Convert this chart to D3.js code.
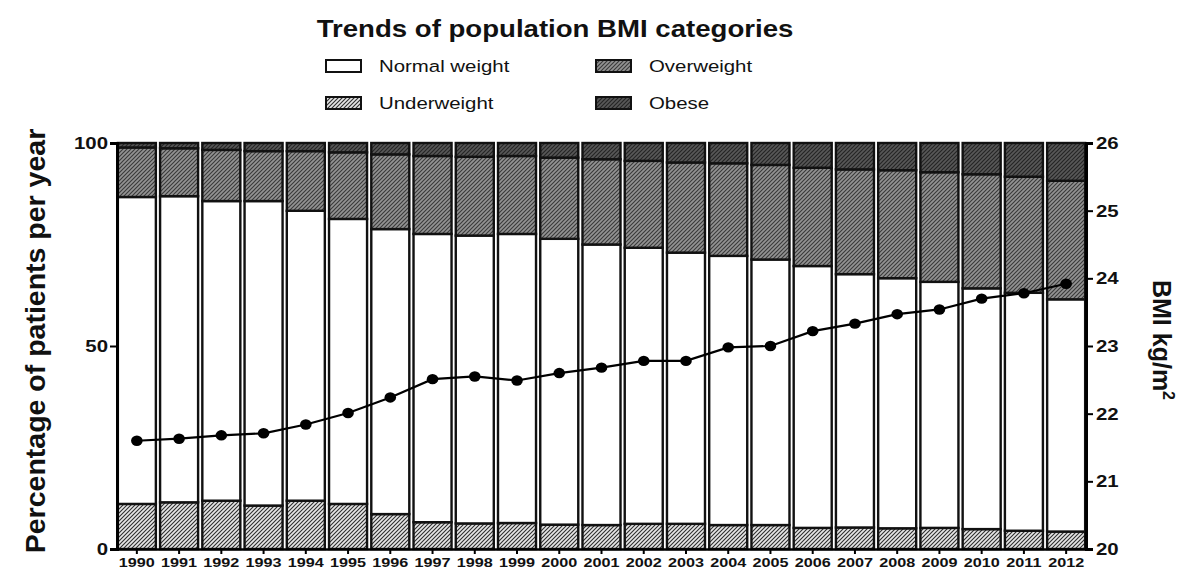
<!DOCTYPE html>
<html>
<head>
<meta charset="utf-8">
<script src="https://cdn.jsdelivr.net/npm/d3@7/dist/d3.min.js"></script>
<style>
  html, body { margin: 0; padding: 0; background: #fff; }
  svg { display: block; font-family: "Liberation Sans", Arial, Helvetica, sans-serif; }
</style>
</head>
<body>
<svg id="chart" width="1189" height="574"></svg>
<script>
// Survey years
const years = ["1990","1991","1992","1993","1994","1995","1996","1997","1998","1999","2000","2001",
               "2002","2003","2004","2005","2006","2007","2008","2009","2010","2011","2012"];

// Share of patients per BMI category (% of the year's patients)
const underweight = [11.1, 11.5, 11.9, 10.7, 11.9, 11.1, 8.6, 6.6, 6.3, 6.4, 6.0, 5.9,
                     6.2, 6.2, 5.9, 5.9, 5.2, 5.3, 5.1, 5.2, 4.9, 4.5, 4.3];
const normalWeight = [75.6, 75.4, 73.8, 75.0, 71.4, 70.2, 70.2, 71.0, 70.9, 71.2, 70.4, 69.1,
                      68.0, 66.8, 66.3, 65.4, 64.5, 62.4, 61.6, 60.6, 59.3, 58.6, 57.2];
const overweight = [12.2, 11.8, 12.6, 12.3, 14.7, 16.4, 18.4, 19.2, 19.4, 19.2, 20.0, 21.0,
                    21.4, 22.2, 22.8, 23.3, 24.2, 25.8, 26.6, 27.0, 28.1, 28.6, 29.2];
const obese = [1.1, 1.3, 1.7, 2.0, 2.0, 2.3, 2.8, 3.2, 3.4, 3.2, 3.6, 4.0,
               4.4, 4.8, 5.0, 5.4, 6.1, 6.5, 6.7, 7.2, 7.7, 8.3, 9.3];

// Mean BMI per year (kg/m²), right axis
const meanBMI = [21.60, 21.63, 21.68, 21.71, 21.84, 22.01, 22.24, 22.51, 22.55, 22.49, 22.60, 22.68,
                 22.78, 22.78, 22.98, 23.00, 23.22, 23.33, 23.47, 23.54, 23.70, 23.78, 23.92];

// Axis ticks
const pctTicks = [0, 50, 100];
const bmiTicks = [20, 21, 22, 23, 24, 25, 26];

const categories = [
  { key: "underweight", label: "Underweight", fill: "url(#hatchLight)" },
  { key: "normal", label: "Normal weight", fill: "#ffffff" },
  { key: "overweight", label: "Overweight", fill: "url(#hatchMid)" },
  { key: "obese", label: "Obese", fill: "url(#hatchDark)" }
];

const rows = years.map((yr, i) => ({
  year: yr,
  underweight: underweight[i],
  normal: normalWeight[i],
  overweight: overweight[i],
  obese: obese[i]
}));

const SX = 1.2; // horizontal widening of the text face
const svg = d3.select("#chart");

// Hatch fills
const defs = svg.append("defs");
function hatch(id, bg, stroke, w) {
  const p = defs.append("pattern").attr("id", id)
    .attr("patternUnits", "userSpaceOnUse").attr("width", 4).attr("height", 4);
  p.append("rect").attr("width", 4).attr("height", 4).attr("fill", bg);
  p.append("path").attr("d", "M-1,1 L1,-1 M0,4 L4,0 M3,5 L5,3")
    .attr("stroke", stroke).attr("stroke-width", w);
}
hatch("hatchLight", "#e6e6e6", "#2e2e2e", 1.1);
hatch("hatchMid", "#939393", "#3a3a3a", 1.15);
hatch("hatchDark", "#585858", "#242424", 1.2);

const plotLeft = 117, plotRight = 1086, plotTop = 143, plotBottom = 549;

const x = d3.scaleBand().domain(years).range([plotLeft, plotRight]).paddingInner(0.1).paddingOuter(0.02);
const y = d3.scaleLinear().domain([0, 100]).range([plotBottom, plotTop]);
const yBMI = d3.scaleLinear().domain([20, 26]).range([plotBottom, plotTop]);

// Stacked bars
const stack = d3.stack().keys(categories.map(c => c.key));
const series = stack(rows);

svg.append("g").selectAll("g").data(series).join("g")
  .attr("fill", (d, i) => categories[i].fill)
  .selectAll("rect").data(d => d).join("rect")
    .attr("x", d => x(d.data.year))
    .attr("y", d => y(d[1]))
    .attr("width", x.bandwidth())
    .attr("height", d => y(d[0]) - y(d[1]))
    .attr("stroke", "#111")
    .attr("stroke-width", 2.4);

// Axes
function widen(g) {
  g.selectAll("text").each(function () {
    const t = d3.select(this);
    const tx = +t.attr("x") || 0;
    t.attr("x", tx / SX).attr("transform", `scale(${SX},1)`);
  });
}

const axLeft = svg.append("g").attr("transform", `translate(${plotLeft},0)`)
  .call(d3.axisLeft(y).tickValues(pctTicks).tickFormat(d3.format("d")).tickSize(7).tickPadding(2));
axLeft.select(".domain").attr("stroke-width", 3);
axLeft.selectAll(".tick line").attr("stroke-width", 2);
axLeft.selectAll("text").attr("font-size", 17).attr("font-weight", "bold").attr("fill", "#111");
widen(axLeft);

const axRight = svg.append("g").attr("transform", `translate(${plotRight},0)`)
  .call(d3.axisRight(yBMI).tickValues(bmiTicks).tickFormat(d3.format("d")).tickSize(7).tickPadding(3));
axRight.select(".domain").attr("stroke-width", 3);
axRight.selectAll(".tick line").attr("stroke-width", 2);
axRight.selectAll("text").attr("font-size", 17).attr("font-weight", "bold").attr("fill", "#111");
widen(axRight);

const axBottom = svg.append("g").attr("transform", `translate(0,${plotBottom})`)
  .call(d3.axisBottom(x).tickSize(5).tickPadding(3).tickSizeOuter(0));
axBottom.select(".domain").attr("stroke-width", 2.5);
axBottom.selectAll(".tick line").attr("stroke-width", 2);
axBottom.selectAll("text").attr("font-size", 13.5).attr("font-weight", "bold").attr("fill", "#111");
widen(axBottom);

// Mean BMI line with markers
const bmiLine = d3.line().x((d, i) => x(years[i]) + x.bandwidth() / 2).y(d => yBMI(d));
svg.append("path").datum(meanBMI).attr("d", bmiLine)
  .attr("fill", "none").attr("stroke", "#000").attr("stroke-width", 2.2);
svg.append("g").selectAll("ellipse").data(meanBMI).join("ellipse")
  .attr("cx", (d, i) => x(years[i]) + x.bandwidth() / 2)
  .attr("cy", d => yBMI(d))
  .attr("rx", 5.8).attr("ry", 5.2)
  .attr("fill", "#000");

// Title
svg.append("text")
  .attr("transform", `translate(555,37) scale(${SX},1)`)
  .attr("text-anchor", "middle")
  .attr("font-size", 23).attr("font-weight", "bold").attr("fill", "#111")
  .text("Trends of population BMI categories");

// Legend
const legendItems = [
  { cat: categories[1], lx: 326, ly: 66 },
  { cat: categories[2], lx: 596, ly: 66 },
  { cat: categories[0], lx: 326, ly: 103 },
  { cat: categories[3], lx: 596, ly: 103 }
];
const lg = svg.append("g").selectAll("g").data(legendItems).join("g");
lg.append("rect")
  .attr("x", d => d.lx).attr("y", d => d.ly - 6)
  .attr("width", 35).attr("height", 12)
  .attr("fill", d => d.cat.fill).attr("stroke", "#111").attr("stroke-width", 2);
lg.append("text")
  .attr("transform", d => `translate(${d.lx + 53},${d.ly + 6}) scale(${SX},1)`)
  .attr("font-size", 17).attr("fill", "#111")
  .text(d => d.cat.label);

// Axis titles
svg.append("text")
  .attr("transform", "translate(45,341) rotate(-90)")
  .attr("text-anchor", "middle")
  .attr("font-size", 28.5).attr("font-weight", "bold").attr("fill", "#111")
  .text("Percentage of patients per year");

const bmiTitle = svg.append("text")
  .attr("transform", "translate(1153,340) rotate(90)")
  .attr("text-anchor", "middle")
  .attr("font-size", 25).attr("font-weight", "bold").attr("fill", "#111");
bmiTitle.append("tspan").text("BMI kg/m");
bmiTitle.append("tspan").attr("font-size", 16).attr("dy", -10).text("2");
</script>
</body>
</html>
